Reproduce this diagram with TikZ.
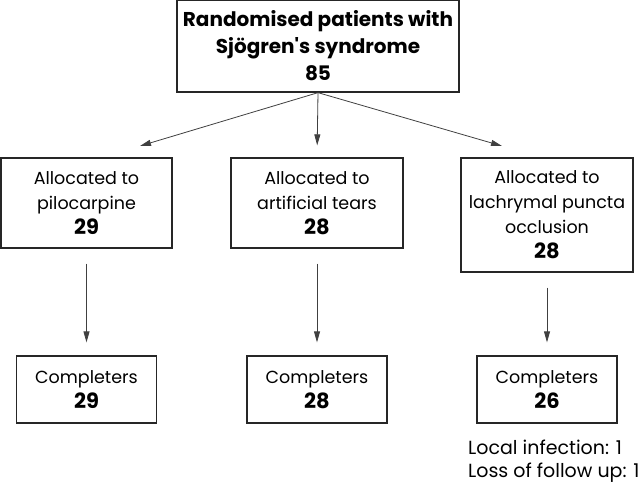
\documentclass[tikz,border=0pt]{standalone}
\usepackage{fontspec}
\setmainfont{Poppins}[Ligatures=TeXOff]
\usetikzlibrary{arrows.meta}

\newcommand{\countnum}[1]{{\fontsize{21}{25}\selectfont\bfseries #1}}

\tikzset{
    flowbox/.style={draw=black!85, line width=1.3pt, align=center, inner sep=0pt,
        font=\fontsize{17.5}{25}\selectfont},
    topbox/.style={flowbox, font=\fontsize{20}{27}\selectfont\bfseries},
    flowarrow/.style={draw=black!75, line width=0.8pt, -{Triangle[length=11pt,width=6pt]}},
}

\begin{document}
\begin{tikzpicture}[x=1pt, y=-1pt]
    \useasboundingbox (0,0) rectangle (640,489);
    % randomised
    \node[topbox, minimum width=282pt, minimum height=92pt] (rand) at (318,46)
        {Randomised patients with\\Sjögren's syndrome\\85};
    % allocation
    \node[flowbox, minimum width=171pt, minimum height=90pt] (pilo) at (86.5,203)
        {Allocated to\\pilocarpine\\\countnum{29}};
    \node[flowbox, minimum width=172pt, minimum height=90pt] (tears) at (317,203)
        {Allocated to\\artificial tears\\\countnum{28}};
    \node[flowbox, minimum width=172pt, minimum height=114pt] (punct) at (547,215)
        {Allocated to\\lachrymal puncta\\occlusion\\\countnum{28}};
    % completers
    \node[flowbox, minimum width=140pt, minimum height=67pt] (comp1) at (86.5,389.5)
        {Completers\\\countnum{29}};
    \node[flowbox, minimum width=140pt, minimum height=67pt] (comp2) at (317,389.5)
        {Completers\\\countnum{28}};
    \node[flowbox, minimum width=140pt, minimum height=67pt] (comp3) at (547,389.5)
        {Completers\\\countnum{26}};
    \node[align=left, inner sep=0pt, anchor=west, font=\fontsize{19}{23}\selectfont]
        (lost) at (468,461.5) {Local infection: 1\\Loss of follow up: 1};

    \coordinate (tipl) at (140,146);
    \coordinate (tipr) at (502,146);
    \draw[flowarrow] (rand.south) -- (tipl);
    \draw[flowarrow, shorten >=12pt] (rand.south) -- (tears.north);
    \draw[flowarrow] (rand.south) -- (tipr);
    \draw[flowarrow, shorten <=15pt, shorten >=13pt] (pilo.south) -- (comp1.north);
    \draw[flowarrow, shorten <=15pt, shorten >=13pt] (tears.south) -- (comp2.north);
    \draw[flowarrow, shorten <=15pt, shorten >=13pt] (punct.south) -- (comp3.north);
\end{tikzpicture}
\end{document}
